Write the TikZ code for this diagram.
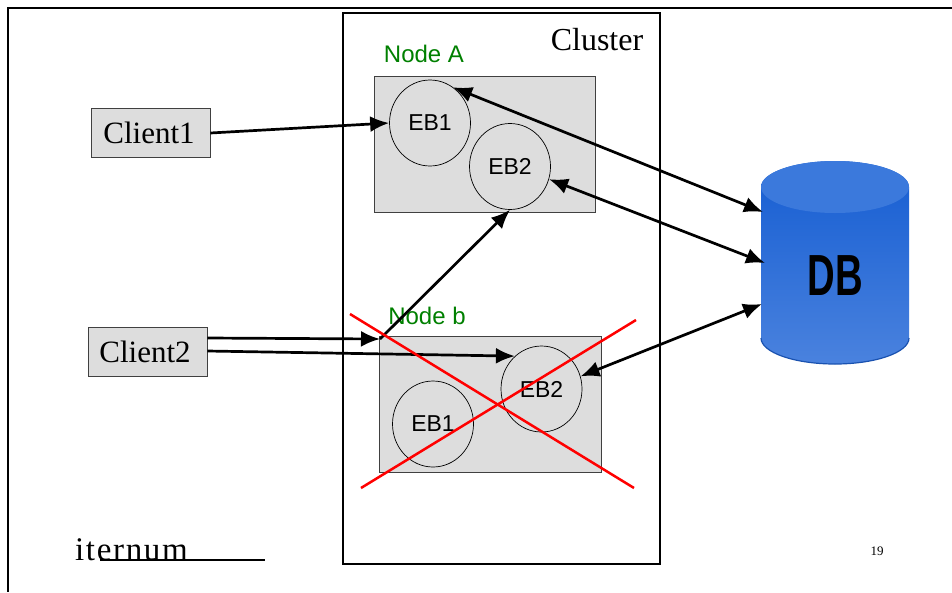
\documentclass[tikz,border=0pt]{standalone}
\usepackage{fontspec}
\setmainfont{Liberation Serif}
\newfontfamily\arialf{Liberation Sans}
\newfontfamily\logof[LetterSpace=5]{Liberation Serif}
\usetikzlibrary{arrows.meta,shapes.geometric}
\definecolor{boxgray}{HTML}{DDDDDD}
\definecolor{dbtop}{HTML}{3B79DC}
\definecolor{dbdark}{HTML}{155DD2}
\definecolor{dblow}{HTML}{4A82DE}
\definecolor{dbedge}{HTML}{1A52B0}
\definecolor{nodegreen}{HTML}{008000}
\tikzset{
  x=1pt,y=-1pt,
  clientbox/.style={draw=black!75,line width=0.8pt,fill=boxgray,minimum width=119pt,minimum height=49pt,inner sep=0pt,text depth=0pt},
  clientfont/.style={font=\fontsize{31}{33}\selectfont},
  hostbox/.style={draw=black!75,line width=0.8pt,fill=boxgray,minimum width=221pt,minimum height=136pt,inner sep=0pt},
  ebnode/.style={draw=black,line width=0.7pt,ellipse,minimum width=81pt,minimum height=86pt,inner sep=0pt,font=\arialf\fontsize{23}{25}\selectfont},
  hostlabel/.style={text=nodegreen,font=\arialf\fontsize{24}{26}\selectfont,inner sep=0pt},
  link/.style={draw=black,line width=2.7pt,-{Latex[length=19pt,width=16pt]}},
  biglink/.style={draw=black,line width=2.7pt,{Latex[length=19pt,width=16pt]}-{Latex[length=19pt,width=16pt]}},
  cross/.style={draw=red,line width=2.5pt},
  frameline/.style={draw=black,line width=2.7pt}
}
\begin{document}
\begin{tikzpicture}
\useasboundingbox (0,0) rectangle (952,592);
\fill[white] (0,0) rectangle (952,592);
% slide frame
\coordinate (f1) at (952,8);
\coordinate (f2) at (8,8);
\coordinate (f3) at (8,592);
\draw[frameline] (f1) -- (f2) -- (f3);
% cluster
\node[draw=black,line width=2.7pt,minimum width=317pt,minimum height=551pt,inner sep=0pt] (cluster) at (501.5,288.5) {};
\node[inner sep=0pt,font=\fontsize{32}{34}\selectfont] (clusterlabel) at (597,40) {Cluster};
% hosts
\node[hostbox,minimum width=221pt,minimum height=136pt] (nodeA) at (485,144.5) {};
\node[hostbox,minimum width=222pt,minimum height=136pt] (nodeB) at (490,404.5) {};
\node[hostlabel] (labelA) at (424,54) {Node A};
\node[hostlabel] (labelB) at (427,315.5) {Node b};
% EBs
\node[ebnode] (a1) at (430,123) {EB1};
\node[ebnode] (a2) at (510,166.5) {EB2};
\node[ebnode] (b1) at (433,424) {EB1};
\node[ebnode] (b2) at (541.5,389) {EB2};
% clients
\node[clientbox,clientfont] (c1) at (150.5,132.5) {\hspace{-3pt}Client1};
\node[clientbox,clientfont] (c2) at (147.5,352) {\hspace{-5pt}Client2};
% database
\begin{scope}
\path[top color=dbdark,bottom color=dblow] (761,187) arc[x radius=74,y radius=26,start angle=180,end angle=360] -- (909,338) arc[x radius=74,y radius=26,start angle=0,end angle=180] -- cycle;
\draw[dbedge,line width=1.2pt] (909,338) arc[x radius=74,y radius=26,start angle=0,end angle=180];
\fill[dbtop] (835,187) ellipse[x radius=74,y radius=26];
\end{scope}
\coordinate (dbt) at (763,212);
\coordinate (dbm) at (765,263);
\coordinate (dbb) at (762,304);
\node[inner sep=0pt,font=\arialf\bfseries\fontsize{58}{60}\selectfont] (dblabel) at (835,276) {\scalebox{0.66}[1]{DB}};
% connectors
\coordinate (junction) at (380,339);
\draw[link] (c1.east |- 0,133) -- (a1.west);
\draw[link] (c2.east |- 0,338) -- (junction);
\draw[link] (junction) -- (a2.south);
\draw[link] (c2.east |- 0,351) -- (b2.129);
\draw[biglink] (a1.57) -- (dbt);
\draw[biglink] (a2.-18) -- (dbm);
\draw[biglink] (b2.18) -- (dbb);
% red cross
\coordinate (x1) at (350,314);
\coordinate (x2) at (634,488);
\coordinate (x3) at (361,488);
\coordinate (x4) at (636,320);
\draw[cross] (x1) -- (x2);
\draw[cross] (x3) -- (x4);
% footer
\node[anchor=base west,inner sep=0pt,font=\logof\fontsize{33}{35}\selectfont] (logo) at (75,560) {iternum};
\coordinate (logoend) at (265,560);
\coordinate (logostart) at (100,560);
\draw[black,line width=1.1pt] (logostart) -- (logoend);
\node[inner sep=0pt,font=\fontsize{13}{15}\selectfont] (page) at (877,551) {19};
\end{tikzpicture}
\end{document}
